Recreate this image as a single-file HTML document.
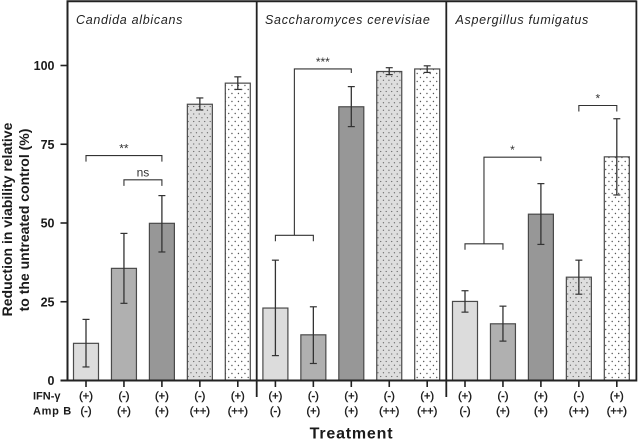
<!DOCTYPE html>
<html>
<head>
<meta charset="utf-8">
<style>
html,body{margin:0;padding:0;background:#fff;}
svg{display:block;font-family:"Liberation Sans",sans-serif;}
</style>
</head>
<body>
<svg id="chart" width="638" height="440" viewBox="0 0 638 440" xmlns="http://www.w3.org/2000/svg">
<defs>
<pattern id="dots-grey" width="5.5" height="7.5" patternUnits="userSpaceOnUse" x="0" y="0">
<rect width="5.5" height="7.5" fill="#dedede"/>
<circle cx="1.2" cy="1.5" r="0.65" fill="#666"/>
<circle cx="3.95" cy="5.25" r="0.65" fill="#666"/>
</pattern>
<pattern id="dots-white" width="6.5" height="8" patternUnits="userSpaceOnUse" x="0" y="0">
<rect width="6.5" height="8" fill="#fff"/>
<circle cx="1.2" cy="1.5" r="0.7" fill="#555"/>
<circle cx="4.45" cy="5.5" r="0.7" fill="#555"/>
</pattern>
</defs>
</svg>
<script>
var speciesNames = ["Candida albicans", "Saccharomyces cerevisiae", "Aspergillus fumigatus"];
var ifnLabels = ["(+)", "(-)", "(+)", "(-)", "(+)"];
var ampLabels = ["(-)", "(+)", "(+)", "(++)", "(++)"];
var yTicks = [0, 25, 50, 75, 100];
var candidaMeans = [11.8, 35.6, 49.9, 87.7, 94.4];
var candidaHigh = [19.4, 46.7, 58.7, 89.7, 96.4];
var candidaLow = [4.3, 24.5, 40.8, 85.9, 92.4];
var saccharoMeans = [23, 14.5, 86.9, 98.1, 98.9];
var saccharoHigh = [38.2, 23.4, 93.3, 99.3, 99.9];
var saccharoLow = [7.9, 5.4, 80.6, 97.1, 97.8];
var aspergMeans = [25.1, 18, 52.8, 32.8, 71];
var aspergHigh = [28.5, 23.6, 62.5, 38.2, 83.1];
var aspergLow = [21.7, 12.5, 43.2, 27.4, 58.9];
var means = [candidaMeans, saccharoMeans, aspergMeans];
var highs = [candidaHigh, saccharoHigh, aspergHigh];
var lows = [candidaLow, saccharoLow, aspergLow];
var barFills = ["#dcdcdc", "#b0b0b0", "#979797", "url(#dots-grey)", "url(#dots-white)"];
var comparisonPanels = [0, 0, 1, 1, 2, 2, 2];
var comparisonFrom = [0, 1, 0, 0.5, 0, 0.5, 3];
var comparisonTo = [2, 2, 1, 2, 1, 2, 4];
var comparisonLevels = [71.4, 63.7, 46.1, 98.9, 43.4, 70.9, 87.3];
var comparisonLeftEnd = [null, null, null, 46.1, null, 43.4, null];
var comparisonLabels = ["**", "ns", "", "***", "", "*", "*"];

var svg = document.getElementById('chart');
var NS = 'http://www.w3.org/2000/svg';
function y(v) { return 380.5 - v * 3.15; }
function x(p, i) { return [86, 275.4, 465][p] + i * 37.95; }
function add(tag, attrs, parent) {
  var e = document.createElementNS(NS, tag);
  for (var k in attrs) e.setAttribute(k, attrs[k]);
  (parent || svg).appendChild(e);
  return e;
}
function line(x1, y1, x2, y2, color, w, parent) {
  return add('line', {x1: x1, y1: y1, x2: x2, y2: y2, stroke: color, 'stroke-width': w}, parent);
}
function text(s, px, py, size, weight, anchor, parent) {
  var t = add('text', {x: px, y: py, 'font-size': size, 'font-weight': weight, 'text-anchor': anchor, fill: '#1a1a1a'}, parent);
  t.textContent = s;
  return t;
}

// bars and error bars
for (var p = 0; p < 3; p++) {
  for (var i = 0; i < 5; i++) {
    var g = add('g', {});
    
    
    var cx = x(p, i);
    var bar = add('rect', {x: cx - 12.5, y: y(means[p][i]), width: 25, height: y(0) - y(means[p][i]), fill: barFills[i], stroke: '#4a4a4a', 'stroke-width': 1.2}, g);
    
    
    var err = add('g', {}, g);
    
    
    line(cx, y(highs[p][i]), cx, y(lows[p][i]), '#333', 1.3, err);
    line(cx - 3.5, y(highs[p][i]), cx + 3.5, y(highs[p][i]), '#333', 1.2, err);
    line(cx - 3.5, y(lows[p][i]), cx + 3.5, y(lows[p][i]), '#333', 1.2, err);
  }
}

// frame
var frame = add('g', {});


line(66.5, 1.2, 636.5, 1.2, '#222', 2, frame);
line(67.5, 0.5, 67.5, 381.5, '#222', 2, frame);
line(256.7, 0.5, 256.7, 397, '#222', 1.8, frame);
line(446.3, 0.5, 446.3, 397, '#222', 1.8, frame);
line(636.4, 0.5, 636.4, 381.5, '#222', 1.8, frame);
line(60.5, y(0), 637, y(0), '#222', 2, frame);

// y axis
var yAxis = add('g', {});


yTicks.forEach(function (t) {
  line(60.5, y(t), 67, y(t), '#222', 1.6, yAxis);
  var lab = text(String(t), 54.5, y(t) + 4.5, 12.5, 'bold', 'end', yAxis);
  
  
});

// x ticks and treatment rows
for (var p2 = 0; p2 < 3; p2++) {
  for (var j = 0; j < 5; j++) {
    var tx = x(p2, j);
    line(tx, 381, tx, 387, '#222', 1.6);
    var a = text(ifnLabels[j], tx, 399.5, 11, 'normal', 'middle');
    
    
    a.setAttribute('stroke', '#1a1a1a');
    a.setAttribute('stroke-width', '0.4');
    var b = text(ampLabels[j], tx, 414.5, 11, 'normal', 'middle');
    
    
    b.setAttribute('stroke', '#1a1a1a');
    b.setAttribute('stroke-width', '0.4');
  }
}

// comparison brackets
comparisonLevels.forEach(function (lvl, k) {
  var g = add('g', {});
  
  
  var p = comparisonPanels[k];
  var x1 = x(p, comparisonFrom[k]), x2 = x(p, comparisonTo[k]);
  var yy = y(lvl);
  var leftBottom = comparisonLeftEnd[k] === null ? yy + 6 : y(comparisonLeftEnd[k]);
  var rightBottom = comparisonLeftEnd[k] === null ? yy + 6 : yy + 4;
  add('path', {d: 'M' + x1 + ' ' + leftBottom + 'V' + yy + 'H' + x2 + 'V' + rightBottom, fill: 'none', stroke: '#333', 'stroke-width': 1.1}, g);
  if (comparisonLabels[k]) {
    var isNs = comparisonLabels[k] === 'ns';
    var lab = text(comparisonLabels[k], (x1 + x2) / 2, yy + (isNs ? -3.5 : -3), isNs ? 12 : 12, 'normal', 'middle', g);
    
    
    lab.setAttribute('fill', '#333');
  }
});

// species titles
speciesNames.forEach(function (n, k) {
  var t = text(n, [76, 265, 455.5][k], 24, 12.5, 'normal', 'start');
  t.setAttribute('font-style', 'italic');
  t.setAttribute('letter-spacing', '0.7');
  t.setAttribute('fill', '#222');
  
  
});

// row headers
var ifnHead = text('IFN-γ', 33, 399.5, 11, 'bold', 'start');


var ampHead = text('Amp B', 33, 414.5, 11, 'bold', 'start');
ampHead.setAttribute('letter-spacing', '0.7');



// axis titles
var xTitle = text('Treatment', 351.5, 438.5, 16, 'bold', 'middle');
xTitle.setAttribute('letter-spacing', '0.8');


var yTitle1 = text('Reduction in viability relative', 0, 0, 14, 'bold', 'middle');
yTitle1.setAttribute('transform', 'translate(12 219.5) rotate(-90)');


var yTitle2 = text('to the untreated control (%)', 0, 0, 14, 'bold', 'middle');
yTitle2.setAttribute('transform', 'translate(29 220) rotate(-90)');


</script>
</body>
</html>
